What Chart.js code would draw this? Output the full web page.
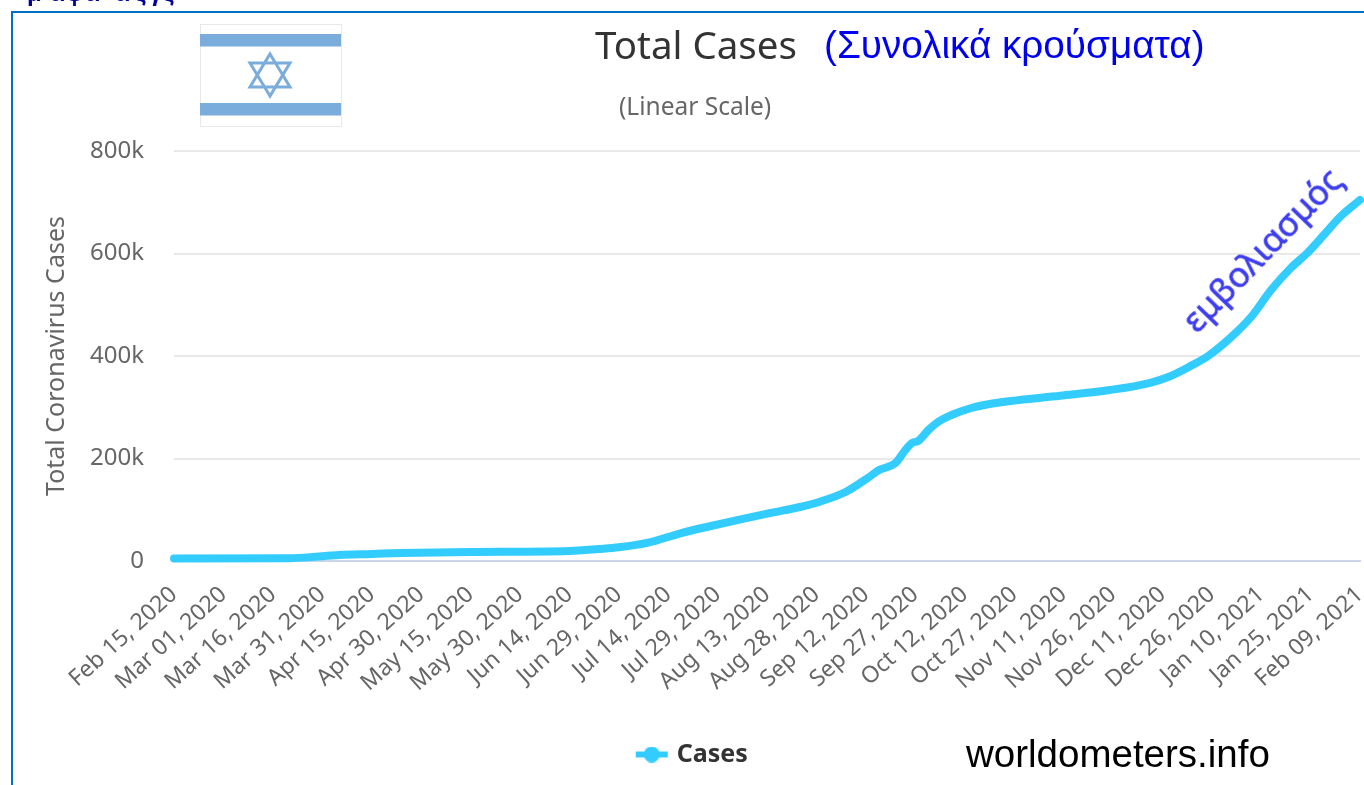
<!DOCTYPE html>
<html lang="el">
<head>
<meta charset="utf-8">
<title>Total Cases</title>
<script src="https://cdn.jsdelivr.net/npm/chart.js@4"></script>
<style>
html,body{margin:0;padding:0;background:#fff;overflow:hidden}
#wrap{position:relative;width:1364px;height:785px;overflow:hidden}
#c{position:absolute;left:0;top:0}
.frame{position:absolute;background:#0070c4}
.t{position:absolute;white-space:nowrap;line-height:1}
.g{position:absolute;top:-19px;font:bold 24px 'Liberation Sans';color:#00009c;line-height:1}
</style>
</head>
<body>
<div id="wrap">
<canvas id="c" width="1364" height="785" style="width:1364px;height:785px"></canvas>
<div class="frame" style="left:11px;top:11px;width:1353px;height:2px"></div>
<div class="frame" style="left:11px;top:11px;width:2px;height:774px"></div>
<span class="g" style="left:27px">μ</span><span class="g" style="left:50px">α</span><span class="g" style="left:66px">φ</span><span class="g" style="left:85px">α</span><span class="g" style="left:115px">α</span><span class="g" style="left:134px">ς</span><span class="g" style="left:149px">γ</span><span class="g" style="left:162px">ς</span>
<svg style="position:absolute;left:200px;top:24px" width="142" height="103" viewBox="200 24 142 103">
<rect x="200.5" y="24.5" width="141" height="102" fill="#fff" stroke="#e8e8e8"/>
<rect x="200" y="34" width="141" height="12.5" fill="#7aacdc"/>
<rect x="200" y="103" width="141" height="12.5" fill="#7aacdc"/>
<path d="M270 54 L290 87 L250 87 Z M270 96 L250 63 L290 63 Z" fill="none" stroke="#7aacdc" stroke-width="3"/>
</svg>
<div class="t" style="left:595px;top:18px;font:38.5px 'Noto Sans';color:#333">Total Cases</div>
<div class="t" style="left:824px;top:23px;font:38.7px 'Liberation Sans';color:#0000f0">(Συνολικά κρούσματα)</div>
<div class="t" style="left:619px;top:89px;font:24.5px 'Noto Sans';color:#666">(Linear Scale)</div>
<div class="t" style="left:966px;top:732px;font:38.5px 'Liberation Sans';color:#000">worldometers.info</div>
<div class="t" style="left:1261px;top:249px;font:35px 'Noto Sans';color:#3c3cf0;-webkit-text-stroke:0.6px #3c3cf0;transform:translate(-50%,-50%) rotate(-46deg)">εμβολιασμός</div>
</div>
<script>
const tickLabels = ["Feb 15, 2020","Mar 01, 2020","Mar 16, 2020","Mar 31, 2020","Apr 15, 2020","Apr 30, 2020","May 15, 2020","May 30, 2020","Jun 14, 2020","Jun 29, 2020","Jul 14, 2020","Jul 29, 2020","Aug 13, 2020","Aug 28, 2020","Sep 12, 2020","Sep 27, 2020","Oct 12, 2020","Oct 27, 2020","Nov 11, 2020","Nov 26, 2020","Dec 11, 2020","Dec 26, 2020","Jan 10, 2021","Jan 25, 2021","Feb 09, 2021"];
const caseDays = [0,35,44,50,60,69,90,120,129,135,144,154,163,172,181,190,196,204,211,214,219,222,224,226,229,232,236,242,246,254,269,284,296,302,308,314,321,327,333,339,344,349,354,360];
const caseValues = [4900,5300,8800,11700,13700,15600,17600,19500,23400,26700,35700,54600,68300,81400,93600,105400,115700,135200,163900,177500,191200,216600,230200,234700,255600,271800,284800,298500,304400,312200,322500,333600,347300,359600,378500,400500,437600,476600,528700,571600,600900,636000,671700,704300];
const seriesName = "Cases";
const yTitle = "Total Coronavirus Cases";

const swatch = document.createElement('canvas');
swatch.width = 34; swatch.height = 16;
(function(){
  const g = swatch.getContext('2d');
  g.strokeStyle = g.fillStyle = '#33ccff';
  g.lineWidth = 6;
  g.beginPath(); g.moveTo(1,8); g.lineTo(33,8); g.stroke();
  g.beginPath(); g.arc(17,8,8,0,Math.PI*2); g.fill();
})();

new Chart(document.getElementById('c'), {
  type: 'line',
  data: { datasets: [{
    label: seriesName,
    data: caseDays.map((d,i)=>({x:d,y:caseValues[i]})),
    borderColor: '#33ccff',
    backgroundColor: '#33ccff',
    borderWidth: 8,
    borderCapStyle: 'round',
    borderJoinStyle: 'round',
    cubicInterpolationMode: 'monotone',
    pointRadius: 0,
    pointStyle: swatch,
    clip: false
  }]},
  options: {
    responsive: false,
    animation: false,
    devicePixelRatio: 1,
    layout: { autoPadding: false, padding: { left: 27, right: 4, top: 151, bottom: 8 } },
    plugins: {
      title: { display: false },
      tooltip: { enabled: false },
      legend: {
        position: 'bottom',
        labels: {
          usePointStyle: true,
          color: '#333',
          padding: 8,
          font: { family: "'Noto Sans'", size: 25, weight: 'bold' }
        }
      }
    },
    scales: {
      x: {
        type: 'linear',
        min: 0, max: 360,
        afterFit: s => { s.height = 173; s.paddingRight = 0; s.paddingLeft = 0; },
        grid: { display: false, drawTicks: false },
        border: { display: true, color: '#ccd6eb', width: 2 },
        ticks: {
          stepSize: 15,
          autoSkip: false,
          minRotation: 42, maxRotation: 42,
          padding: 20,
          color: '#666',
          font: { family: "'Noto Sans'", size: 23 },
          callback: v => tickLabels[v/15]
        }
      },
      y: {
        min: 0, max: 800000,
        afterFit: s => { s.width = 147; s.paddingTop = 0; s.paddingBottom = 0; },
        grid: { color: '#e9e9e9', lineWidth: 2, drawTicks: false },
        border: { display: false },
        title: { display: true, text: yTitle, color: '#666', font: { family: "'Noto Sans'", size: 25 }, padding: { top: 15, bottom: 0 } },
        ticks: {
          stepSize: 200000,
          padding: 30,
          color: '#666',
          font: { family: "'Noto Sans'", size: 24 },
          callback: v => v === 0 ? '0' : (v/1000) + 'k'
        }
      }
    }
  }
});
</script>
</body>
</html>
